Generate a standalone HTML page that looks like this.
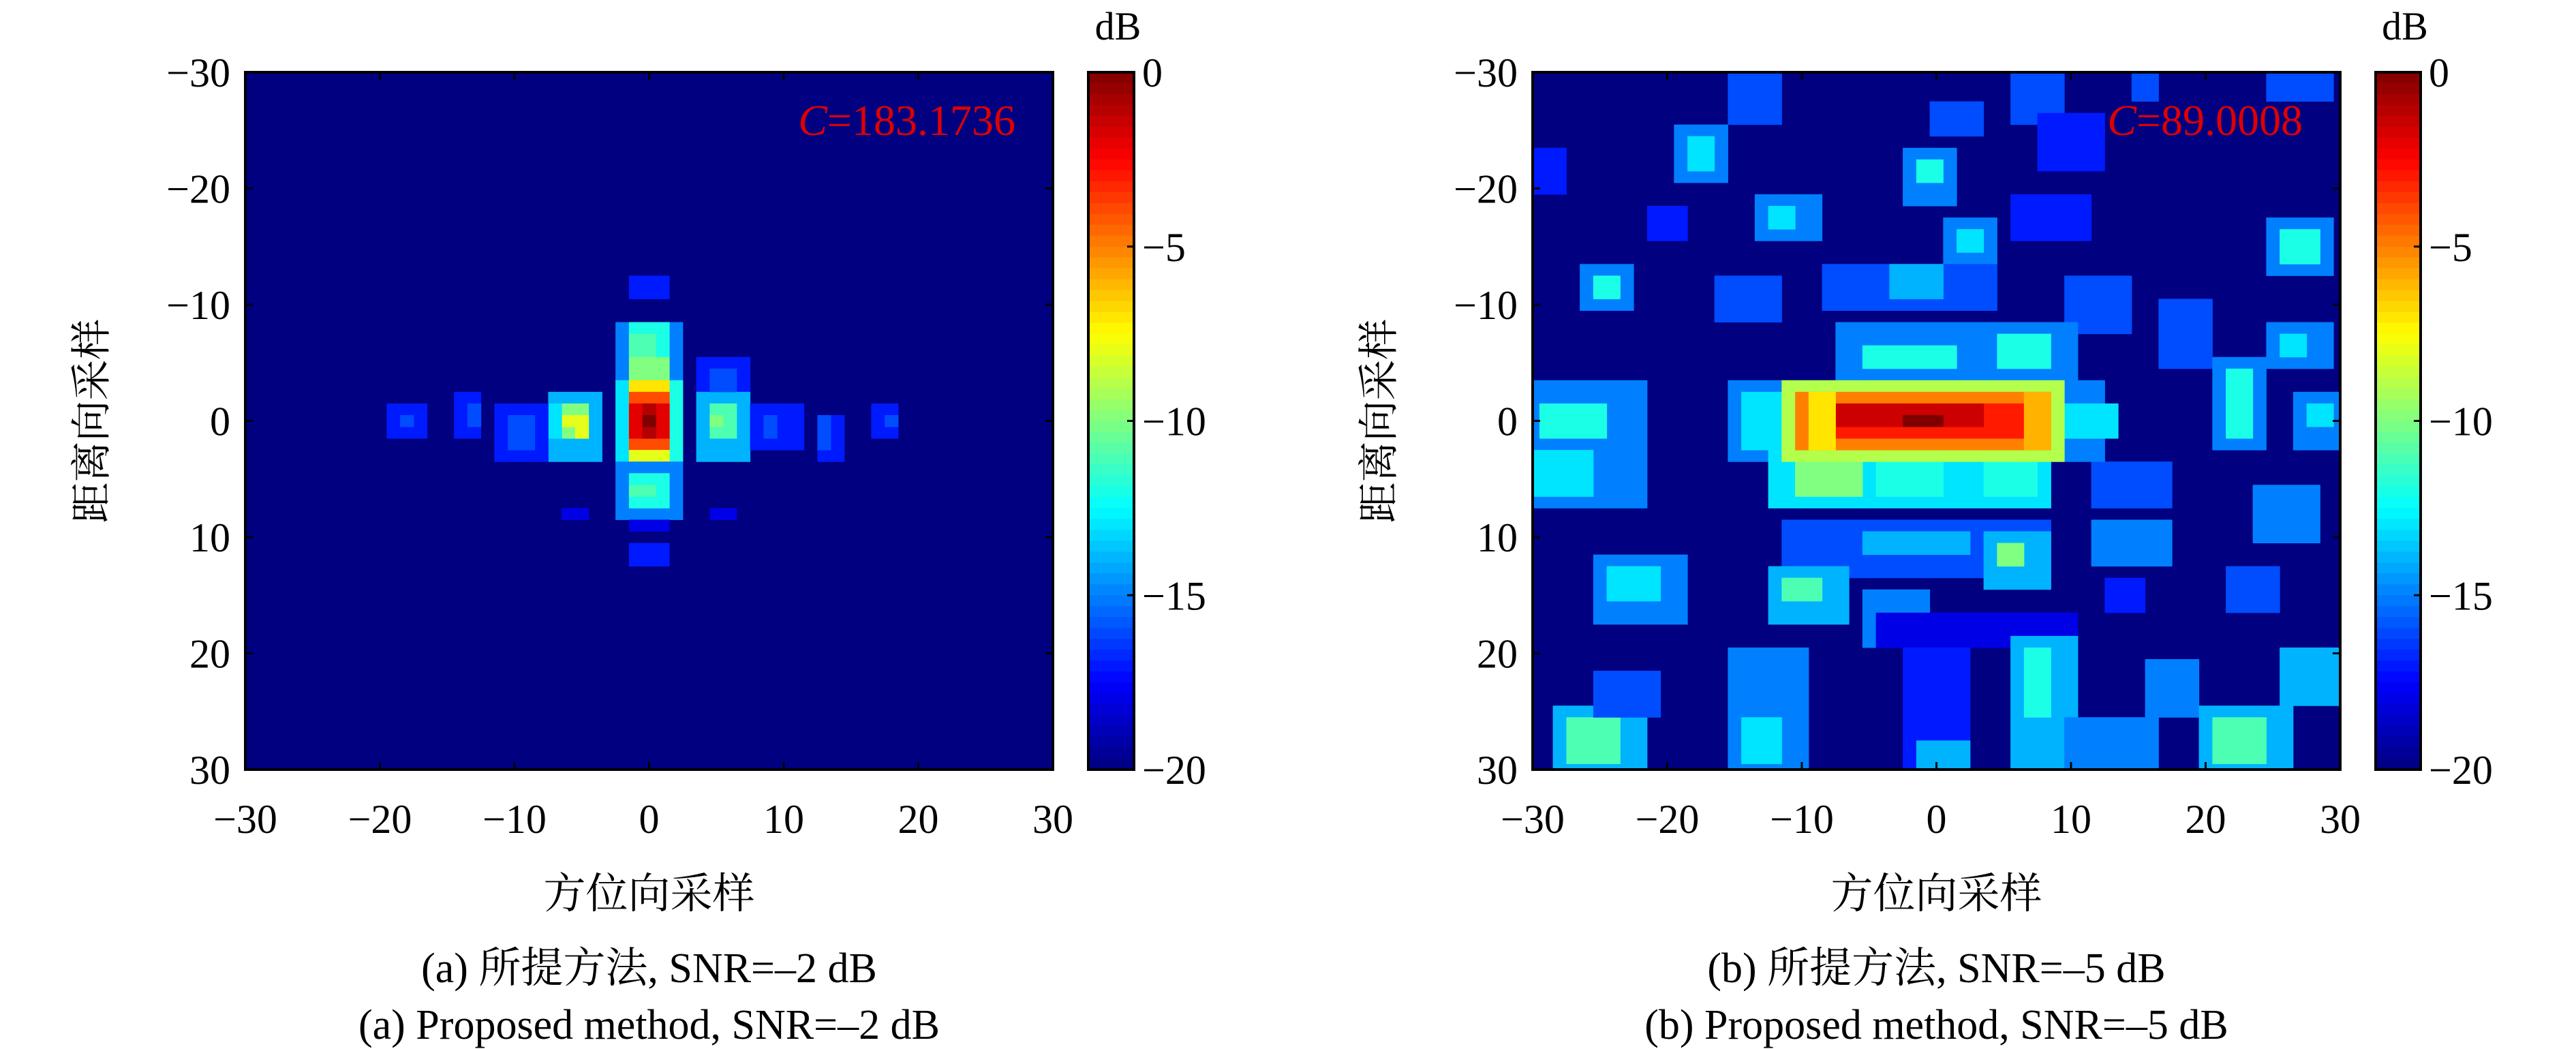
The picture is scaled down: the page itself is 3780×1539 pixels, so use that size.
<!DOCTYPE html>
<html><head><meta charset="utf-8">
<style>
html,body{margin:0;padding:0;background:#fff;}
svg{display:block;}
text{font-family:"Liberation Serif","Noto Serif CJK SC","Noto Sans CJK SC",serif;fill:#000;}
</style></head>
<body>
<svg id="fig" width="3780" height="1539" viewBox="0 0 3780 1539" xmlns="http://www.w3.org/2000/svg"></svg>
<script>
// ---- data ----
const xTicks = [-30,-20,-10,0,10,20,30];
const yTicks = [-30,-20,-10,0,10,20,30];
const cbTicks = [0,-5,-10,-15,-20];
const dbMin = -20, dbMax = 0;
// rectangles of cells: [x0,x1,y0,y1,dB], painted in order over a -20 dB background
const cellsA = [
 [-1,1,-12,-11,-17],
 [-2,2,-8,-4,-15],[-1,1,-8,-6,-12],[-1,0,-7,-6,-11],[-1,1,-5,-4,-10],
 [-2,-2,-3,3,-13],[2,2,-3,3,-12],
 [-1,1,-3,3,-7],[-1,1,-2,2,-4],[-1,1,-1,1,-2],[0,0,-1,1,-1],[0,0,0,0,0],
 [-1,1,3,3,-8],
 [-2,2,4,8,-15],[-1,1,5,7,-12],[-1,0,6,6,-11],[-1,1,9,9,-18],
 [-1,1,11,12,-17],
 [-7,-4,-2,3,-14],[-6,-5,-1,1,-10],[-6,-6,0,0,-8],[-5,-5,0,1,-8],[-7,-7,-1,1,-13],
 [4,7,-5,-3,-17],[4,7,-2,3,-14],[5,6,-1,1,-11],[5,5,0,0,-10],[5,6,-4,-3,-16],
 [-11,-8,-1,3,-17],[-10,-9,0,2,-16],
 [8,11,-1,2,-17],[9,9,0,1,-16],
 [-14,-13,-2,1,-17],[-13,-13,-1,0,-16],
 [13,14,0,3,-17],[13,13,0,2,-16],
 [-19,-17,-1,1,-17],[-18,-18,0,0,-16],
 [17,18,-1,1,-17],[18,18,0,0,-16],
 [-6,-5,8,8,-18],[5,6,8,8,-18]
];
const cellsB = [
 [-30,-28,-23,-20,-17],[-19,-16,-25,-21,-15],[-18,-17,-24,-22,-13],[-15,-12,-30,-26,-16],
 [-2,1,-23,-19,-15],[-1,0,-22,-21,-12],[0,3,-27,-25,-16],[6,9,-30,-26,-16],[8,12,-26,-22,-17],
 [15,16,-30,-28,-16],[25,29,-30,-28,-16],[-13,-9,-19,-16,-15],[-12,-11,-18,-17,-13],
 [-21,-19,-18,-16,-17],[1,4,-17,-14,-15],[2,3,-16,-15,-13],[6,11,-19,-16,-17],
 [25,29,-17,-13,-15],[26,28,-16,-14,-12],[-26,-23,-13,-10,-15],[-25,-24,-12,-11,-12],
 [-16,-12,-12,-9,-16],[-8,4,-13,-10,-16],[-3,0,-13,-11,-14],[10,14,-12,-8,-16],
 [17,20,-10,-5,-16],[25,29,-8,-5,-15],[26,27,-7,-6,-13],
 [21,24,-5,2,-15],[22,23,-4,1,-12],[27,30,-2,2,-15],[28,29,-1,0,-13],
 [-30,-22,-3,7,-15],[-29,-25,-1,1,-12],[-30,-26,3,6,-13],
 [12,17,4,7,-16],[24,28,6,10,-15],
 [-11,8,9,13,-16],[-5,2,10,11,-14],[4,8,10,14,-14],[5,6,11,12,-10],[12,17,9,12,-15],
 [-25,-19,12,17,-15],[-24,-21,13,15,-13],[-12,-7,13,17,-14],[-11,-9,14,15,-11],
 [-5,-1,15,19,-15],[-4,10,17,19,-18],
 [6,10,19,30,-14],[7,8,20,25,-12],[10,16,26,30,-15],[16,19,21,25,-15],
 [20,26,25,30,-14],[21,24,26,29,-11],[26,30,20,24,-14],
 [-28,-22,25,30,-14],[-27,-24,26,29,-11],[-25,-21,22,25,-16],
 [-15,-10,20,30,-15],[-14,-12,26,29,-13],[-2,2,20,30,-17],[-1,2,28,30,-14],
 [22,25,13,16,-16],[13,15,14,16,-17],
 // main target
 [-7,10,-8,-4,-15],[-5,1,-6,-5,-12],[5,8,-7,-5,-12],
 [-15,12,-3,3,-15],[-14,-11,-2,2,-13],[9,13,-1,1,-13],
 [-12,8,3,7,-13],[-10,-6,4,6,-10],[-4,0,4,6,-12],[4,7,4,6,-12],
 [-11,9,-3,3,-9],[-10,8,-2,2,-5],[-9,7,-1,1,-3],[-7,3,-1,0,-1.5],[-2,0,0,0,0],
 [-9,-8,-2,2,-7],[7,8,-2,2,-6]
];

// ---- helpers ----
const svg = document.getElementById('fig');
const NS = 'http://www.w3.org/2000/svg';
function mk(tag, attrs, parent){ const e=document.createElementNS(NS,tag); for(const k in attrs) e.setAttribute(k,attrs[k]); (parent||svg).appendChild(e); return e; }
function jet(t){
  t=Math.max(0,Math.min(1,t));
  const f=(a)=>Math.max(0,Math.min(1,1.5-Math.abs(4*t-a)));
  const r=f(3), g=f(2), b=f(1);
  return 'rgb('+Math.round(r*255)+','+Math.round(g*255)+','+Math.round(b*255)+')';
}
function dbColor(v){ return jet((v-dbMin)/(dbMax-dbMin)); }

function panel(cfg){
  const {L,R,T,B,cbL,cbR,cells,cText,letter,snr,id} = cfg;
  const sx = v => L + (v+30)/60*(R-L);
  const sy = v => T + (v+30)/60*(B-T);
  const g = mk('g',{});
  
  
  const clip = mk('clipPath',{id:id+'-clip'}, g);
  mk('rect',{x:L,y:T,width:R-L,height:B-T},clip);
  const bg = mk('rect',{x:L,y:T,width:R-L,height:B-T,fill:dbColor(dbMin)},g);
  
  
  const hm = mk('g',{'clip-path':'url(#'+id+'-clip)'},g);
  
  
  const cw=(R-L)/60, ch=(B-T)/60;
  cells.forEach(c=>{
    const r = mk('rect',{x:sx(c[0]-0.5),y:sy(c[2]-0.5),width:(c[1]-c[0]+1)*cw+0.5,height:(c[3]-c[2]+1)*ch+0.5,fill:dbColor(c[4])},hm);
    
    
  });
  const fr = mk('rect',{x:L,y:T,width:R-L,height:B-T,fill:'none',stroke:'#000','stroke-width':4},g);
  
  
  xTicks.forEach(v=>{
    const x=sx(v);
    mk('line',{x1:x,y1:B,x2:x,y2:B-11,stroke:'#000','stroke-width':3},g);
    mk('line',{x1:x,y1:T,x2:x,y2:T+11,stroke:'#000','stroke-width':3},g);
    const t = mk('text',{x:x,y:1222,'font-size':60,'text-anchor':'middle'},g);
    t.textContent = v<0 ? '\u2212'+(-v) : String(v);
    
    
  });
  yTicks.forEach(v=>{
    const y=sy(v);
    mk('line',{x1:L,y1:y,x2:L+11,y2:y,stroke:'#000','stroke-width':3},g);
    mk('line',{x1:R,y1:y,x2:R-11,y2:y,stroke:'#000','stroke-width':3},g);
    const t = mk('text',{x:L-22,y:y+21,'font-size':60,'text-anchor':'end'},g);
    t.textContent = v<0 ? '\u2212'+(-v) : String(v);
    
    
  });
  const xt = mk('text',{x:(L+R)/2,y:1332,'font-size':62,'text-anchor':'middle'},g);
  xt.textContent='方位向采样';
  
  
  const yx = L-225, yy=(T+B)/2;
  const yt = mk('text',{x:yx,y:yy,'font-size':60,'text-anchor':'middle',transform:'rotate(-90 '+yx+' '+yy+') translate(0 20)'},g);
  yt.textContent='距离向采样';
  
  
  const ct = mk('text',{x:R-55,y:198,'font-size':64,'text-anchor':'end',fill:'#e00000'},g);
  ct.style.fill='#e00000';
  ct.innerHTML = '<tspan font-style="italic">C</tspan>='+cText;
  
  
  const cb = mk('g',{},g);
  
  
  const N=64;
  for(let i=0;i<N;i++){
    const y0=T+(B-T)*i/N;
    mk('rect',{x:cbL,y:y0,width:cbR-cbL,height:(B-T)/N+0.6,fill:jet(1-(i+0.5)/N)},cb);
  }
  mk('rect',{x:cbL,y:T,width:cbR-cbL,height:B-T,fill:'none',stroke:'#000','stroke-width':4},cb);
  cbTicks.forEach(v=>{
    const y=T+(dbMax-v)/(dbMax-dbMin)*(B-T);
    mk('line',{x1:cbR,y1:y,x2:cbR-10,y2:y,stroke:'#000','stroke-width':3},cb);
    const t=mk('text',{x:cbR+12,y:y+21,'font-size':60},cb);
    t.textContent = v<0 ? '\u2212'+(-v) : String(v);
    
    
  });
  const db = mk('text',{x:(cbL+cbR)/2+10,y:58,'font-size':58,'text-anchor':'middle'},cb);
  db.textContent='dB';
  
  
  const c1 = mk('text',{x:(L+R)/2,y:1441,'font-size':62,'text-anchor':'middle'},g);
  c1.textContent='('+letter+') 所提方法, SNR=\u2013'+snr+' dB';
  
  
  const c2 = mk('text',{x:(L+R)/2,y:1524,'font-size':62,'text-anchor':'middle'},g);
  c2.textContent='('+letter+') Proposed method, SNR=\u2013'+snr+' dB';
  
  
}
panel({id:'panel-a',L:360,R:1545,T:106,B:1129,cbL:1597,cbR:1664,cells:cellsA,cText:'183.1736',letter:'a',snr:2});
panel({id:'panel-b',L:2249,R:3434,T:106,B:1129,cbL:3486,cbR:3552,cells:cellsB,cText:'89.0008',letter:'b',snr:5});
</script>
</body></html>
